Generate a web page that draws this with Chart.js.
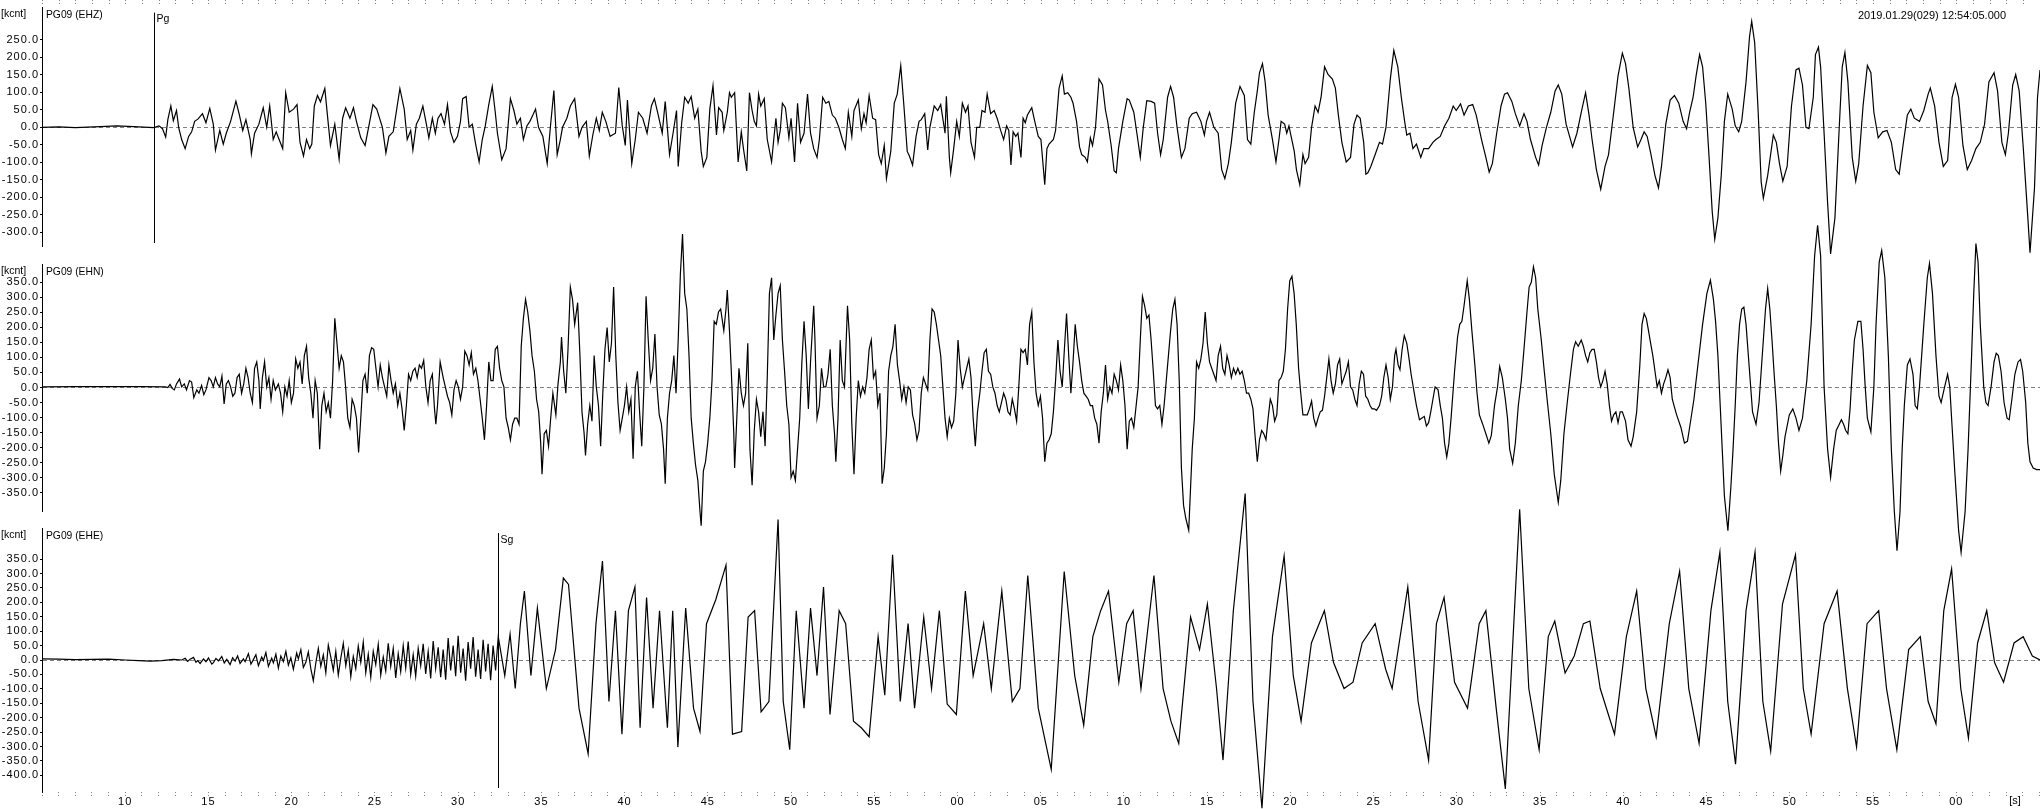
<!DOCTYPE html>
<html><head><meta charset="utf-8">
<script src="https://cdn.jsdelivr.net/npm/chart.js@4.4.1/dist/chart.umd.min.js"></script>
<style>
html,body{margin:0;padding:0;background:#fff;}
#wrap{position:relative;width:2040px;height:809px;background:#fff;}
canvas{position:absolute;left:0;top:0;}
</style></head><body>
<div id="wrap">
<canvas id="c1" width="2040" height="809"></canvas>
<canvas id="c2" width="2040" height="809"></canvas>
<canvas id="c3" width="2040" height="809"></canvas>
</div>
<script>
// time axis: seconds after 12:54:00
const timeMin = 5, timeMax = 125.03;
const stationLabels = ['PG09 (EHZ)', 'PG09 (EHN)', 'PG09 (EHE)'];
const startLabel = '2019.01.29(029) 12:54:05.000';
const unitLabel = '[kcnt]';
const phasePicks = [{name:'Pg', time:11.75, panel:0}, {name:'Sg', time:32.41, panel:2}];
const panelRanges = [342.4, 410.7, 457.7];
const ehzTicks = [250,200,150,100,50,0,-50,-100,-150,-200,-250,-300];
const ehnTicks = [350,300,250,200,150,100,50,0,-50,-100,-150,-200,-250,-300,-350];
const eheTicks = [350,300,250,200,150,100,50,0,-50,-100,-150,-200,-250,-300,-350,-400];

const ehzTrace = [[5,0],[6,1],[7,-1],[8.5,2],[9.5,4],[10.5,2],[11.7,-1],
[11.77,0],[12.03,4],[12.24,-4],[12.43,-28],[12.56,22],[12.74,61],[12.89,19],[13.08,48],[13.21,0],[13.39,-35],[13.60,-61],[13.81,-26],[13.99,-13],[14.17,17],[14.38,24],[14.64,39],[14.85,13],[15.08,54],[15.29,9],[15.42,-65],[15.68,-9],[15.89,-48],[16.07,-17],[16.33,17],[16.65,75],[16.86,35],[17.06,-9],[17.25,22],[17.51,-35],[17.58,-76],[17.77,-17],[18.03,9],[18.29,56],[18.50,0],[18.68,61],[18.89,-35],[19.07,-13],[19.28,-39],[19.46,-61],[19.64,99],[19.85,43],[20.11,52],[20.32,65],[20.50,-43],[20.71,-82],[20.89,-35],[21.08,-61],[21.21,-48],[21.36,61],[21.55,91],[21.73,73],[21.99,111],[22.20,9],[22.33,-52],[22.59,9],[22.85,-91],[23.06,26],[23.24,56],[23.50,26],[23.71,56],[23.89,17],[24.15,-30],[24.41,-52],[24.62,0],[24.88,65],[25.11,52],[25.45,0],[25.66,-73],[25.84,-26],[26.10,-13],[26.31,52],[26.50,111],[26.76,52],[26.94,-35],[27.15,-9],[27.28,-65],[27.49,9],[27.67,26],[27.88,61],[28.06,17],[28.24,-30],[28.45,26],[28.63,-17],[28.79,26],[28.97,39],[29.18,9],[29.36,65],[29.54,-13],[29.75,-43],[29.96,-26],[30.14,17],[30.27,82],[30.48,88],[30.66,0],[30.85,9],[31.05,-48],[31.26,-99],[31.45,-35],[31.63,4],[31.84,65],[32.05,117],[32.23,43],[32.36,-17],[32.62,-93],[32.88,-61],[33.14,82],[33.35,48],[33.53,9],[33.74,26],[33.92,-35],[34.13,4],[34.31,17],[34.49,35],[34.65,52],[34.83,0],[35.09,-26],[35.35,-104],[35.54,0],[35.75,105],[35.95,-78],[36.14,-35],[36.27,0],[36.53,26],[36.74,61],[37.00,82],[37.26,-26],[37.44,0],[37.70,17],[37.88,-82],[38.09,-22],[38.30,26],[38.48,-9],[38.66,43],[38.87,17],[39.13,-26],[39.45,-17],[39.65,114],[39.86,4],[40.04,-52],[40.17,78],[40.43,-104],[40.64,-35],[40.83,43],[41.09,26],[41.35,-17],[41.61,61],[41.79,82],[42.00,39],[42.26,-17],[42.44,74],[42.70,-78],[42.91,-17],[43.12,48],[43.22,-112],[43.43,13],[43.61,86],[43.82,69],[44.00,88],[44.21,26],[44.40,52],[44.60,-69],[44.73,-112],[44.94,-86],[45.12,52],[45.31,119],[45.52,-22],[45.65,56],[45.86,43],
[45.96,-9],[46.17,43],[46.30,99],[46.41,86],[46.61,99],[46.82,-99],[47.01,-13],[47.14,-61],[47.34,-125],[47.50,99],[47.66,48],[47.79,17],[47.92,4],[48.05,95],[48.18,61],[48.39,82],[48.57,-35],[48.83,-99],[48.96,-35],[49.09,26],[49.22,-43],[49.35,-9],[49.48,69],[49.66,56],[49.87,-30],[50.00,26],[50.21,-99],[50.39,69],[50.57,-43],[50.78,-17],[50.99,95],[51.17,-17],[51.36,-61],[51.56,-86],[51.70,-35],[51.90,86],[52.09,69],[52.27,74],[52.48,35],[52.66,26],[52.87,0],[53.08,-35],[53.26,-61],[53.44,43],[53.65,-26],[53.78,48],[54.04,78],[54.22,-4],[54.38,39],[54.51,13],[54.69,91],[54.90,26],[55.08,22],[55.26,-78],[55.42,-104],[55.60,-52],[55.73,-147],[55.99,-69],[56.20,69],[56.38,95],[56.59,176],[56.78,61],[56.98,-69],[57.11,-82],[57.30,-108],[57.51,-26],[57.69,17],[57.82,22],[58.03,39],[58.21,-65],[58.34,0],[58.60,61],[58.81,48],[58.99,65],[59.25,-17],[59.33,89],[59.51,-86],[59.59,-130],[59.77,-61],[59.95,17],[60.11,-26],[60.29,69],[60.48,43],[60.63,61],[60.81,-43],[61.02,-86],[61.15,0],[61.34,0],[61.47,48],[61.65,43],[61.78,95],[61.99,39],[62.20,48],[62.38,26],[62.59,-9],[62.77,-35],[62.95,4],[63.08,-9],[63.21,-108],[63.34,-13],[63.50,-26],[63.63,-17],[63.81,-86],[63.94,26],[64.07,13],[64.20,35],[64.46,56],[64.64,17],[64.85,-26],[65.01,-35],[65.24,-164],[65.37,-61],[65.50,-48],[65.76,-35],[65.89,-9],[66.10,112],[66.29,147],[66.42,95],[66.62,99],[66.81,86],[66.94,69],[67.15,17],[67.33,-56],[67.46,-78],[67.67,-86],[67.80,-99],[67.98,-30],[68.11,-52],[68.29,0],[68.50,138],[68.71,121],[68.89,48],[69.02,17],[69.23,-52],[69.41,-125],[69.54,-130],[69.67,-61],[69.93,17],[70.19,82],[70.32,78],[70.59,43],[70.79,-22],[70.98,-86],[71.16,0],[71.37,76],[71.63,74],[71.84,69],[72.02,-17],[72.20,-78],[72.36,-35],[72.62,86],[72.80,117],[72.98,86],[73.19,0],[73.45,-86],[73.66,-61],[73.92,26],[74.10,39],[74.36,43],[74.62,17],[74.83,-22],[74.96,17],[75.14,43],[75.40,0],[75.66,-17],[75.87,-121],[76.06,-147],[76.27,-104],[76.45,-43],[76.71,69],[76.97,117],[77.23,91],[77.42,-35],[77.62,-48],[77.83,43],[78.01,104],[78.14,156],[78.32,182],[78.48,130],[78.66,35],[78.92,-35],[79.13,-99],[79.31,-35],[79.44,17],[79.65,9],[79.78,-17],[79.91,4],[80.04,-26],[80.23,-69],[80.36,-121],[80.56,-164],[80.75,-78],[80.88,-104],[81.09,-86],[81.27,0],[81.48,61],[81.66,43],[81.84,86],[82.05,173],[82.26,151],[82.52,138],[82.70,112],[82.88,35],[83.09,-43],[83.35,-99],[83.61,-86],[83.82,9],[84.00,35],[84.19,26],[84.40,-43],[84.53,-134],[84.65,-130],
[84.83,-112],[85.09,-78],[85.35,-43],[85.53,-48],[85.74,0],[86.00,138],[86.21,220],[86.45,173],[86.66,86],[86.86,17],[86.99,-22],[87.18,-17],[87.36,-61],[87.57,-48],[87.83,-86],[88.01,-61],[88.30,-61],[88.56,-43],[88.74,-35],[89.00,-26],[89.26,4],[89.52,26],[89.78,61],[89.96,48],[90.22,67],[90.43,35],[90.69,61],[90.95,65],[91.16,35],[91.48,-35],[91.74,-86],[91.94,-128],[92.13,-104],[92.39,-17],[92.65,61],[92.86,95],[93.04,99],[93.30,74],[93.51,39],[93.77,4],[94.03,39],[94.21,17],[94.42,-35],[94.73,-86],[94.91,-108],[95.12,-52],[95.38,0],[95.64,43],[95.90,104],[96.09,121],[96.30,95],[96.56,9],[96.95,-56],[97.21,-17],[97.47,43],[97.73,99],[97.94,35],[98.12,-35],[98.38,-121],[98.64,-177],[98.90,-112],[99.11,-78],[99.42,43],[99.68,147],[99.94,212],[100.13,182],[100.33,112],[100.59,0],[100.86,-56],[101.06,-35],[101.25,-13],[101.43,-26],[101.64,-73],[101.90,-138],[102.11,-173],[102.29,-112],[102.55,9],[102.81,78],[103.07,91],[103.33,69],[103.59,17],[103.80,-4],[103.98,43],[104.19,86],[104.37,147],[104.58,208],[104.76,173],[104.95,69],[105.15,-86],[105.34,-242],[105.49,-320],[105.68,-259],[105.88,-138],[106.07,17],[106.27,95],[106.54,52],[106.72,4],[106.93,-13],[107.11,17],[107.37,130],[107.58,259],[107.71,303],[107.89,242],[108.10,43],[108.28,-156],[108.41,-203],[108.67,-138],[109.01,-22],[109.19,-43],[109.38,-104],[109.58,-154],[109.84,-112],[110.10,61],[110.37,164],[110.55,169],[110.76,121],[110.97,0],[111.15,-4],[111.41,86],[111.54,208],[111.72,229],[111.85,173],[112.06,-17],[112.27,-216],[112.45,-362],[112.71,-259],[112.97,0],[113.15,173],[113.31,214],[113.49,130],[113.75,-86],[113.96,-154],[114.14,-104],[114.40,61],[114.66,177],[114.87,156],[115.05,43],[115.31,-30],[115.58,-13],[115.84,-9],[116.10,-43],[116.36,-121],[116.57,-134],[116.80,-52],[117.06,35],[117.27,52],[117.48,26],[117.79,17],[118.05,48],[118.31,95],[118.44,112],[118.70,61],[118.96,-43],[119.22,-112],[119.48,-95],[119.75,86],[119.95,123],[120.14,86],[120.40,-52],[120.66,-121],[120.92,-95],[121.18,-61],[121.44,-43],[121.70,9],[121.96,130],[122.27,156],[122.48,104],[122.74,-43],[122.95,-78],[123.13,-17],[123.39,121],[123.57,151],[123.78,104],[124.04,-69],[124.30,-259],[124.43,-359],[124.70,-173],[124.88,86],[125.03,164]];

const ehnTrace = [[5,2],[7,3],[9,3],[11,3],[12.4,2],
[12.56,0],[12.69,10],[12.82,-3],[12.95,-8],[13.08,12],[13.26,28],[13.39,2],[13.55,12],[13.68,-8],[13.86,23],[13.99,18],[14.12,-34],[14.30,-8],[14.43,-19],[14.59,7],[14.72,-24],[14.85,-8],[15.03,33],[15.16,23],[15.29,2],[15.42,33],[15.55,12],[15.68,2],[15.81,38],[15.94,-55],[16.07,12],[16.20,23],[16.33,2],[16.46,-29],[16.59,-19],[16.72,33],[16.85,44],[16.99,-19],[17.12,12],[17.25,64],[17.38,33],[17.51,-19],[17.64,-50],[17.77,64],[17.90,85],[18.03,23],[18.11,-71],[18.24,33],[18.37,85],[18.50,2],[18.63,33],[18.76,-39],[18.89,23],[19.02,-8],[19.20,12],[19.33,-19],[19.46,-81],[19.59,2],[19.72,-29],[19.85,23],[19.98,-50],[20.11,-19],[20.24,95],[20.37,64],[20.50,85],[20.63,12],[20.76,106],[20.89,137],[21.02,33],[21.15,-19],[21.28,-102],[21.41,23],[21.54,-19],[21.68,-205],[21.81,-60],[21.94,-19],[22.07,-81],[22.20,-50],[22.33,-102],[22.46,23],[22.59,230],[22.72,147],[22.85,64],[22.98,106],[23.11,85],[23.24,2],[23.37,-102],[23.50,-133],[23.63,-39],[23.76,-60],[23.89,-102],[24.02,-216],[24.15,-102],[24.28,23],[24.41,44],[24.54,-19],[24.67,106],[24.80,132],[24.93,127],[25.06,64],[25.19,2],[25.32,75],[25.45,33],[25.58,2],[25.71,-29],[25.84,75],[25.97,23],[26.10,-19],[26.23,12],[26.37,-60],[26.50,-19],[26.63,-71],[26.76,-143],[26.89,-60],[27.02,44],[27.15,23],[27.28,54],[27.41,64],[27.54,33],[27.67,75],[27.80,64],[27.93,90],[28.06,2],[28.19,-50],[28.32,23],[28.45,44],[28.58,-71],[28.66,-122],[28.76,-60],[28.92,85],[29.10,33],[29.23,2],[29.36,-29],[29.49,-50],[29.62,-91],[29.75,-8],[29.88,23],[30.01,2],[30.14,-39],[30.27,2],[30.40,121],[30.53,106],[30.66,75],[30.79,116],[30.92,44],[31.06,64],[31.19,23],[31.32,-39],[31.45,-102],[31.58,-174],[31.71,-60],[31.84,85],[31.97,23],[32.10,23],[32.23,127],[32.36,137],[32.49,64],[32.62,23],[32.75,2],[32.88,-102],[33.01,-133],[33.14,-174],[33.27,-122],[33.40,-102],[33.53,-102],[33.66,-122],[33.79,137],[33.92,230],[34.05,293],[34.18,251],[34.31,189],[34.44,106],[34.58,54],[34.71,-39],[34.84,-81],[34.96,-185],[35.04,-288],[35.17,-154],[35.30,-143],[35.43,-195],[35.56,-102],[35.69,-19],[35.87,-91],[36.00,12],[36.14,85],[36.21,168],[36.34,54],[36.47,-19],[36.60,127],[36.74,334],[36.87,293],[37.00,210],[37.18,282],[37.31,116],[37.44,-81],[37.57,-154],[37.65,-226],[37.78,-122],[37.91,-60],[38.04,-112],[38.17,106],[38.30,2],[38.43,-60],[38.56,-195],[38.69,-19],[38.82,127],[38.95,199],[39.08,85],[39.21,147],[39.34,334],[39.47,106],[39.60,-50],[39.73,-143],[39.86,-102],[39.99,-60],[40.12,2],[40.25,-81],[40.38,-39],[40.51,-237],[40.64,2],[40.77,54],[40.90,-81],[41.03,-195],[41.16,2],[41.29,303],[41.42,158],[41.56,23],[41.69,64],[41.82,178],[41.95,2],[42.08,-91],[42.21,-122],[42.34,-205],[42.44,-320],[42.57,-102],[42.70,-19],[42.83,23],[42.96,106],[43.09,-19],[43.22,158],[43.35,376],[43.48,510],[43.61,313],[43.74,261],[43.87,106],[44.00,-102],[44.13,-185],[44.26,-257],[44.40,-309],[44.53,-413],[44.60,-460],[44.73,-278],[44.86,-247],[44.99,-185],[45.12,-102],[45.25,23],[45.38,220],[45.51,210],[45.64,251],[45.77,261],
[45.96,189],[46.09,261],[46.17,324],[46.30,189],[46.41,54],[46.56,-154],[46.61,-268],[46.74,-102],[46.87,64],[47.01,-19],[47.14,-60],[47.27,-19],[47.40,147],[47.53,-205],[47.66,-325],[47.79,-143],[47.92,-39],[48.05,-81],[48.18,-164],[48.31,-81],[48.44,-195],[48.57,33],[48.70,313],[48.83,365],[48.96,158],[49.09,241],[49.22,313],[49.35,339],[49.48,158],[49.61,54],[49.74,-60],[49.87,-122],[50.00,-299],[50.13,-278],[50.26,-309],[50.39,-205],[50.52,-102],[50.65,85],[50.78,220],[50.91,106],[51.04,-71],[51.17,85],[51.36,272],[51.43,168],[51.56,-102],[51.70,-60],[51.83,64],[51.96,2],[52.09,2],[52.22,44],[52.35,127],[52.48,-60],[52.61,-154],[52.69,-247],[52.82,-102],[52.95,158],[53.08,23],[53.21,2],[53.39,272],[53.52,158],[53.65,-122],[53.78,-288],[53.91,-102],[54.04,23],[54.17,-29],[54.30,2],[54.43,-19],[54.56,33],[54.69,127],[54.82,158],[54.95,33],[55.08,54],[55.21,-60],[55.34,-19],[55.47,-320],[55.60,-268],[55.73,-154],[55.86,54],[55.99,106],[56.12,137],[56.25,210],[56.39,75],[56.52,23],[56.65,-39],[56.78,2],[56.91,-50],[57.04,2],[57.17,-8],[57.30,-91],[57.43,-122],[57.56,-174],[57.69,-143],[57.82,-19],[57.95,33],[58.08,12],[58.21,-8],[58.34,158],[58.47,261],[58.60,251],[58.73,210],[58.86,158],[58.99,106],[59.12,2],[59.25,-102],[59.38,-164],[59.51,-102],[59.64,-133],[59.77,-112],[59.90,-19],[60.03,158],[60.16,64],[60.29,2],[60.42,33],[60.55,64],[60.68,95],[60.81,33],[60.94,-102],[61.07,-195],[61.20,-81],[61.34,-19],[61.47,54],[61.60,116],[61.73,127],[61.86,54],[61.99,44],[62.12,2],[62.25,-19],[62.38,-60],[62.51,-81],[62.64,-50],[62.77,-19],[62.90,-39],[63.03,-81],[63.16,-91],[63.29,-39],[63.42,-71],[63.55,-112],[63.68,2],[63.81,127],[63.94,116],[64.07,127],[64.20,75],[64.33,210],[64.46,251],[64.59,85],[64.72,-19],[64.85,-60],[64.98,-29],[65.11,-102],[65.24,-247],[65.37,-185],[65.50,-174],[65.63,-154],[65.76,-81],[65.89,23],[66.03,158],[66.16,54],[66.29,2],[66.42,127],[66.55,246],[66.68,106],[66.81,-19],[66.94,85],[67.07,210],[67.20,137],[67.33,85],[67.46,23],[67.59,-19],[67.72,-29],[67.85,-39],[67.98,-60],[68.11,-60],[68.24,-102],[68.37,-122],[68.50,-185],[68.63,-81],[68.76,-19],[68.89,75],[69.02,-39],[69.15,2],[69.28,-19],[69.41,44],[69.54,23],[69.67,-8],[69.80,75],[69.93,23],[70.06,-60],[70.19,-205],[70.32,-112],[70.45,-102],[70.59,-133],[70.85,2],[70.98,158],[71.11,303],[71.24,272],[71.37,230],[71.50,241],[71.63,158],[71.76,54],[71.89,-60],[72.02,-71],[72.15,-60],[72.28,-122],[72.41,-60],[72.54,23],[72.67,106],[72.80,189],[72.93,261],[73.06,293],[73.19,210],[73.32,23],[73.45,-268],[73.58,-392],[73.71,-434],[73.89,-475],[74.10,-205],[74.23,-102],[74.36,85],[74.49,64],[74.62,95],[74.75,147],[74.88,251],[75.01,147],[75.14,85],[75.27,64],[75.40,44],[75.53,23],[75.66,106],[75.80,137],[75.93,64],[76.06,44],[76.19,106],[76.32,75],[76.45,33],[76.58,64],[76.71,44],[76.84,64],[76.97,44],[77.10,54],[77.23,23],[77.36,-19],[77.49,-19],[77.62,-39],[77.75,-71],[77.88,-164],[78.01,-247],[78.14,-174],[78.27,-143],[78.40,-154],[78.53,-174],[78.66,-102],[78.79,-39],[78.92,-60],[79.05,-112],[79.18,-91],[79.31,23],[79.44,33],[79.57,54],[79.70,127],[79.83,261],[79.96,355],[80.09,370],[80.22,313],[80.35,210],[80.49,64],[80.62,-19],[80.75,-91],[80.88,-91],[81.01,-91],[81.14,-71],[81.27,-45],[81.40,-102],[81.53,-128],[81.66,-102],[81.79,-81],[81.92,-76],[82.05,-29],[82.18,33],[82.31,95],[82.44,23],[82.57,-19],[82.70,12],[82.83,75],[82.96,95],[83.09,12],[83.22,33],[83.35,54],[83.48,85],[83.61,2],[83.74,-8],[83.87,-39],[84.00,-60],[84.13,12],[84.26,54],[84.39,44],[84.52,-29],[84.65,-39],[84.78,-60],[84.91,-71],[85.04,-71],[85.17,-76],
[85.35,-60],[85.48,-29],[85.61,33],[85.74,75],[85.87,33],[86.00,-39],[86.13,2],[86.26,106],[86.34,127],[86.47,75],[86.58,59],[86.71,127],[86.84,173],[86.99,147],[87.10,106],[87.25,44],[87.44,-19],[87.57,-60],[87.75,-107],[87.88,-102],[88.04,-96],[88.17,-128],[88.30,-117],[88.43,-81],[88.56,-39],[88.69,2],[88.87,-8],[89.00,-60],[89.13,-102],[89.26,-185],[89.39,-231],[89.52,-185],[89.65,-102],[89.86,54],[90.04,168],[90.17,210],[90.30,220],[90.43,272],[90.62,355],[90.75,293],[90.90,189],[91.08,75],[91.21,-19],[91.35,-91],[91.55,-122],[91.74,-154],[91.92,-185],[92.07,-159],[92.26,-60],[92.44,2],[92.57,70],[92.73,33],[92.91,-39],[93.04,-102],[93.17,-205],[93.35,-252],[93.51,-185],[93.69,-60],[93.87,23],[94.03,127],[94.21,251],[94.34,334],[94.47,350],[94.60,401],[94.73,365],[94.86,261],[95.07,158],[95.25,54],[95.44,-50],[95.64,-154],[95.85,-289],[96.09,-382],[96.24,-309],[96.43,-154],[96.63,-50],[96.82,44],[97.00,127],[97.13,152],[97.29,137],[97.47,158],[97.60,137],[97.73,106],[97.86,85],[97.99,116],[98.12,127],[98.25,127],[98.38,85],[98.51,33],[98.64,2],[98.77,23],[98.90,54],[99.03,12],[99.16,-60],[99.29,-112],[99.42,-91],[99.55,-81],[99.68,-117],[99.81,-81],[99.94,-81],[100.13,-112],[100.28,-174],[100.46,-195],[100.59,-164],[100.80,-81],[100.99,75],[101.12,210],[101.25,246],[101.38,230],[101.51,189],[101.64,147],[101.77,106],[101.90,54],[102.03,2],[102.16,23],[102.29,-19],[102.42,12],[102.55,33],[102.68,59],[102.81,33],[102.94,-39],[103.07,-65],[103.20,-91],[103.46,-133],[103.67,-185],[103.85,-179],[103.98,-133],[104.24,-39],[104.50,85],[104.76,210],[105.02,313],[105.23,357],[105.41,293],[105.54,220],[105.68,106],[105.81,-50],[105.94,-205],[106.07,-361],[106.28,-476],[106.46,-330],[106.59,-205],[106.72,-60],[106.85,106],[106.98,210],[107.11,261],[107.24,267],[107.37,210],[107.58,54],[107.76,-81],[107.97,-122],[108.15,-50],[108.41,158],[108.54,261],[108.67,329],[108.80,261],[108.93,158],[109.06,44],[109.19,-60],[109.32,-185],[109.45,-278],[109.58,-226],[109.71,-164],[109.97,-91],[110.18,-71],[110.37,-102],[110.55,-143],[110.76,-102],[111.02,23],[111.28,210],[111.49,438],[111.67,539],[111.85,438],[112.06,2],[112.27,-205],[112.45,-299],[112.63,-205],[112.79,-143],[112.97,-122],[113.10,-107],[113.23,-122],[113.36,-143],[113.49,-154],[113.62,-71],[113.75,54],[113.88,158],[114.09,220],[114.27,220],[114.40,127],[114.53,2],[114.66,-102],[114.87,-148],[115.05,2],[115.18,210],[115.37,417],[115.52,456],[115.71,365],[115.92,106],[116.10,-205],[116.28,-413],[116.44,-543],[116.62,-413],[116.75,-205],[116.88,-60],[117.06,75],[117.22,95],[117.40,44],[117.53,-60],[117.66,-71],[117.79,2],[118.05,210],[118.26,365],[118.39,412],[118.57,313],[118.78,106],[118.96,-29],[119.09,-50],[119.30,2],[119.48,44],[119.61,2],[119.74,-122],[119.92,-288],[120.14,-475],[120.29,-548],[120.53,-413],[120.71,-205],[120.92,106],[121.05,313],[121.18,479],[121.31,417],[121.44,210],[121.65,2],[121.78,-50],[121.91,-60],[122.09,2],[122.27,85],[122.40,114],[122.53,106],[122.69,54],[122.87,-50],[123.05,-102],[123.18,-107],[123.34,-39],[123.52,44],[123.71,85],[123.86,93],[123.99,54],[124.17,-50],[124.30,-185],[124.43,-247],[124.62,-268],[124.83,-273],[125.03,-273]];

const eheTrace = [[5,4],[6,3],[7,1],[8,2],[9,3],[10,0],[10.8,-2],[11.5,-4],[12.2,-2],[12.9,2],[13.4,0],
[13.6,6],[13.75,-5],[13.9,3],[14.1,9],[14.25,-8],[14.35,-2],[14.5,-12],[14.7,4],[14.85,-6],[15.0,7],[15.2,-14],[15.3,-9],[15.45,5],[15.6,-3],[15.8,12],[15.95,-10],[16.1,2],[16.3,-16],[16.45,8],[16.6,-4],[16.75,14],[16.9,-12],[17.1,4],[17.2,-6],[17.4,22],[17.55,-14],[17.65,-4],[17.85,18],[18.0,-20],[18.2,10],[18.3,-2],[18.45,26],[18.6,-22],[18.8,6],[18.9,-10],[19.05,20],[19.2,-28],[19.35,14],[19.5,-6],[19.65,30],[19.8,-18],[19.95,8],[20.1,-32],[20.3,24],[20.4,4],[20.55,36],[20.7,-26],[20.85,-8],[21.0,28],[21.15,-30],[21.3,-72],[21.45,-10],[21.6,40],[21.75,-22],[21.9,18],[22.05,-44],[22.2,52],[22.35,10],[22.5,-36],[22.65,30],[22.8,-52],[22.95,6],[23.1,58],[23.25,-20],[23.4,34],[23.55,-58],[23.7,12],[23.85,-30],[24.0,48],[24.15,-8],[24.3,62],[24.45,-44],[24.6,20],[24.75,-60],[24.9,30],[25.05,-16],[25.2,54],[25.35,-52],[25.5,10],[25.65,-38],[25.8,58],[25.95,-22],[26.1,40],[26.25,-62],[26.4,22],[26.55,-40],[26.7,50],[26.85,-28],[27.0,64],[27.15,-50],[27.3,18],[27.45,-56],[27.6,40],[27.75,-20],[27.9,56],[28.05,-48],[28.2,30],[28.35,-64],[28.5,66],[28.65,-30],[28.8,44],[28.95,-60],[29.1,36],[29.25,-68],[29.4,76],[29.55,-36],[29.7,50],[29.85,-56],[30.0,84],[30.15,-44],[30.3,40],[30.45,-72],[30.6,62],[30.75,-30],[30.9,80],[31.05,-58],[31.2,36],[31.35,-66],[31.5,70],[31.65,-40],[31.8,56],[31.95,-70],[32.1,50],[32.25,-36],
[32.41,81],[32.80,-54],[33.12,90],[33.43,-99],[33.74,126],[33.98,239],[34.37,-54],[34.76,180],[35.30,-99],[35.85,36],[36.32,284],[36.63,262],[37.26,-167],[37.81,-325],[38.28,126],[38.67,343],[39.06,-144],[39.45,171],[39.84,-257],[40.23,171],[40.62,253],[40.93,-235],[41.32,217],[41.71,-167],[42.10,171],[42.57,-235],[42.89,171],[43.20,-302],[43.67,180],[44.14,-167],[44.53,-248],[44.92,126],[45.47,208],[46.09,329],[46.48,-257],[47.03,-248],[47.42,149],[47.81,171],[48.20,-180],[48.67,-144],[49.22,487],[49.53,-144],[49.92,-311],[50.31,171],[50.78,-167],[51.17,180],[51.56,-54],[51.95,253],[52.34,-189],[52.89,171],[53.28,126],[53.75,-212],[54.22,-235],[54.69,-266],[55.23,81],[55.63,-122],[56.10,365],[56.56,-144],[57.03,126],[57.42,-167],[57.97,149],[58.44,-99],[58.91,171],[59.38,-153],[59.93,-189],[60.47,239],[60.94,-54],[61.57,126],[62.03,-99],[62.66,239],[63.29,-144],[63.75,-99],[64.22,293],[64.85,-167],[65.63,-379],[66.41,307],[67.04,-54],[67.58,-226],[68.13,81],[68.60,171],[69.07,239],[69.69,-77],[70.16,126],[70.55,171],[71.02,-99],[71.80,293],[72.35,-99],[72.82,-212],[73.29,-289],[74.00,149],[74.54,36],[75.01,194],[75.56,-99],[75.95,-347],[76.57,171],[77.28,577],[77.75,-144],[78.29,-514],[78.92,81],[79.62,361],[80.17,-54],[80.64,-212],[81.26,59],[82.04,171],[82.59,-9],[83.22,-99],[83.76,-77],[84.31,59],[85.09,126],[85.72,-32],[86.11,-99],[87.05,253],[87.67,-144],[88.30,-347],[88.77,126],[89.23,217],[89.86,-77],[90.64,-167],[91.34,126],[91.74,171],[92.36,-167],[92.91,-447],[93.77,523],[94.32,-99],[94.94,-311],[95.49,81],[95.88,135],[96.50,-45],[97.05,14],[97.60,126],[97.99,135],[98.61,-99],[99.47,-257],[100.18,81],[100.80,239],[101.35,-99],[101.97,-266],[102.76,126],[103.38,307],[103.93,-99],[104.55,-289],[105.26,171],[105.80,374],[106.27,-144],[106.74,-361],[107.37,171],[107.91,374],[108.38,-144],[108.85,-316],[109.56,194],[110.34,365],[110.81,-99],[111.28,-257],[112.06,126],[112.84,239],[113.46,-99],[114.01,-302],[114.64,126],[115.34,171],[115.81,-99],[116.43,-311],[117.14,36],[117.84,81],[118.31,-144],[118.78,-221],[119.25,171],[119.72,316],[120.27,-99],[120.73,-271],[121.28,59],[121.83,171],[122.30,-9],[122.84,-77],[123.47,59],[124.02,81],[124.57,14],[125.03,0]];

const traces = [ehzTrace, ehnTrace, eheTrace];
const tickSets = [ehzTicks, ehnTicks, eheTicks];

const FONT = "Arial, 'Liberation Sans', sans-serif";
const PANEL_H = 264, CANVAS_H = 809, Y_AXIS_W = 42;
const secondTicks = [];
for (let s = Math.ceil(timeMin); s <= Math.floor(timeMax); s++) secondTicks.push(s);
const pad2 = n => (n < 10 ? '0' : '') + n;

const spacingPlugin = {
  id: 'labelSpacing',
  beforeDraw(chart) { try { chart.ctx.letterSpacing = '1px'; } catch (e) {} }
};

function textPlugin(idx) {
  return {
    id: 'seisText' + idx,
    afterDraw(chart) {
      const ctx = chart.ctx, a = chart.chartArea, xs = chart.scales.x;
      ctx.save();
      try { ctx.letterSpacing = '0px'; } catch (e) {}
      ctx.fillStyle = '#000';
      ctx.textBaseline = 'middle';
      ctx.textAlign = 'left';
      ctx.font = '10.5px ' + FONT;
      ctx.fillText(unitLabel, 1, a.top + 7);
      ctx.font = '10.3px ' + FONT;
      ctx.fillText(stationLabels[idx], 46, a.top + 8);
      ctx.font = '11px ' + FONT;
      if (idx === 0) {
        ctx.textAlign = 'right';
        ctx.fillText(startLabel, 2006, a.top + 8);
        ctx.strokeStyle = '#808080'; ctx.lineWidth = 1; ctx.setLineDash([1, 2]);
        secondTicks.forEach(s => {
          const x = Math.round(xs.getPixelForValue(s)) + 0.5;
          ctx.beginPath(); ctx.moveTo(x, 0); ctx.lineTo(x, s % 5 === 0 ? 6 : 4); ctx.stroke();
        });
        ctx.setLineDash([]);
      }
      if (idx === 2) {
        ctx.textAlign = 'center';
        ctx.fillText('[s]', 2015, 801);
      }
      phasePicks.filter(p => p.panel === idx).forEach(p => {
        const x = Math.round(xs.getPixelForValue(p.time)) + 0.5;
        ctx.strokeStyle = '#000'; ctx.lineWidth = 1;
        ctx.beginPath(); ctx.moveTo(x, a.top + 5); ctx.lineTo(x, a.bottom - 4); ctx.stroke();
        ctx.textAlign = 'left';
        ctx.font = '10.5px ' + FONT;
        ctx.fillText(p.name, x + 2, a.top + 12);
      });
      ctx.restore();
    }
  };
}

function makeChart(idx) {
  const top = idx * PANEL_H;
  const isBottom = idx === 2;
  const range = panelRanges[idx];
  const ticks = tickSets[idx];
  return new Chart(document.getElementById('c' + (idx + 1)), {
    type: 'line',
    data: {
      datasets: [{
        data: traces[idx].map(p => ({x: p[0], y: p[1]})),
        borderColor: '#000', borderWidth: 1.2, pointRadius: 0, tension: 0,
        fill: false, clip: false
      }]
    },
    options: {
      responsive: false, animation: false, devicePixelRatio: 1,
      layout: {padding: {top: top, bottom: isBottom ? 0 : CANVAS_H - (top + PANEL_H), left: 0, right: 0}},
      plugins: {legend: {display: false}, tooltip: {enabled: false}, title: {display: false}},
      scales: {
        x: {
          type: 'linear', min: timeMin, max: timeMax, position: 'bottom', display: isBottom,
          afterBuildTicks: s => { s.ticks = secondTicks.map(v => ({value: v})); },
          afterFit: s => { s.height = CANVAS_H - 3 * PANEL_H; },
          ticks: {autoSkip: false, maxRotation: 0, minRotation: 0, padding: -1, color: '#000',
            font: {family: FONT, size: 11},
            callback: v => (v % 5 === 0 && v > timeMin && v < timeMax - 3) ? pad2(v % 60) : ''},
          grid: {drawOnChartArea: false, drawTicks: true, tickLength: 4, tickColor: '#808080', tickBorderDash: [1, 2]},
          border: {display: false}
        },
        y: {
          type: 'linear', min: -range, max: range,
          afterBuildTicks: s => { s.ticks = ticks.map(v => ({value: v})); },
          afterFit: s => { s.width = Y_AXIS_W; },
          ticks: {autoSkip: false, padding: 1, color: '#000', font: {family: FONT, size: 11},
            callback: v => Number(v).toFixed(1)},
          grid: {drawTicks: true, tickLength: 2, tickColor: '#000', lineWidth: 1,
            color: c => (c.tick && c.tick.value === 0) ? '#808080' : 'rgba(0,0,0,0)'},
          border: {display: true, color: '#000', width: 1, dash: [4, 3]}
        }
      }
    },
    plugins: [spacingPlugin, textPlugin(idx)]
  });
}
[0, 1, 2].forEach(makeChart);
</script>
</body></html>
